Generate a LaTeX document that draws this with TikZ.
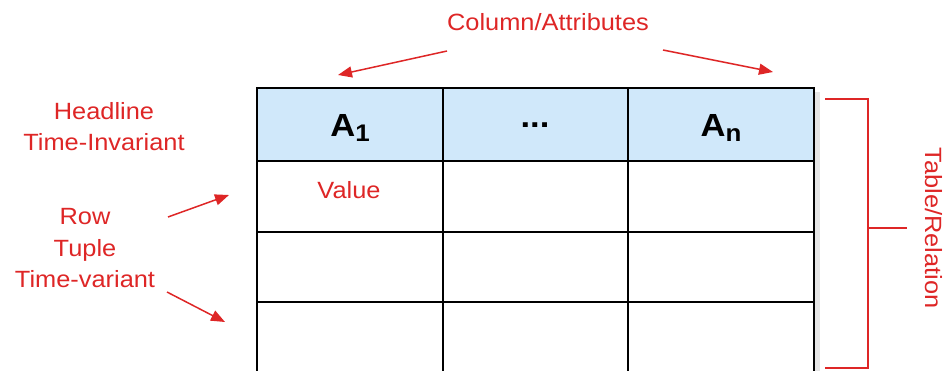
\documentclass[tikz,border=0pt]{standalone}
\usepackage{fontspec}
\setmainfont{Liberation Sans}
\newfontfamily\widesans[FakeStretch=1.08]{Liberation Sans}
\usetikzlibrary{arrows.meta}
\definecolor{lblred}{RGB}{222,38,38}
\definecolor{hdrblue}{RGB}{208,232,250}
\begin{document}
\begin{tikzpicture}[x=1pt,y=-1pt,
  lbl/.style={text=lblred,font=\widesans\fontsize{23.5}{27}\selectfont,inner sep=0pt,anchor=base},
  hdr/.style={font=\widesans\bfseries\fontsize{32}{36}\selectfont,inner sep=0pt,anchor=base},
  arr/.style={draw=lblred,line width=1.5pt,-{Triangle[length=14pt,width=11pt]}},
  gridline/.style={draw=black,line width=1.6pt},
  brk/.style={draw=lblred,line width=1.2pt}]
\useasboundingbox (0,0) rectangle (949,371);
% shadow and header fill
\fill[black!10] (815,92) rectangle (820,371);
\fill[hdrblue] (257,88) rectangle (814,161);
% grid
\draw[gridline] (257,371) -- (257,88) -- (814,88) -- (814,371);
\draw[gridline] (257,161) -- (814,161);
\draw[gridline] (257,232) -- (814,232);
\draw[gridline] (257,302) -- (814,302);
\draw[gridline] (443,88) -- (443,371);
\draw[gridline] (628,88) -- (628,371);
% header texts
\node[hdr] (a1) at (350,137) {A\raisebox{-5pt}{\fontsize{24}{26}\selectfont 1}};
\node[hdr] (dots) at (535,128) {...};
\node[hdr] (an) at (721,137) {A\raisebox{-5pt}{\fontsize{24}{26}\selectfont n}};
\node[lbl] (value) at (349,199) {Value};
% column label
\node[lbl] (col) at (548,31) {Column/Attributes};
\coordinate (colL) at (447,51);
\coordinate (colLt) at (338,75);
\coordinate (colR) at (663,50);
\coordinate (colRt) at (773,72);
\draw[arr] (colL) -- (colLt);
\draw[arr] (colR) -- (colRt);
% left labels
\node[lbl] (hl1) at (104,120) {Headline};
\node[lbl] (hl2) at (104,151) {Time-Invariant};
\node[lbl] (r1) at (85,225) {Row};
\node[lbl] (r2) at (85,256) {Tuple};
\node[lbl] (r3) at (85,287) {Time-variant};
\coordinate (ru) at (168,217);
\coordinate (rut) at (229,195);
\coordinate (rd) at (167,292);
\coordinate (rdt) at (225,322);
\draw[arr] (ru) -- (rut);
\draw[arr] (rd) -- (rdt);
% bracket
\coordinate (bt) at (825,99);
\coordinate (bb) at (825,368);
\coordinate (bm) at (907,228);
\draw[brk] (bt) -- (868,99) -- (868,368) -- (bb);
\draw[brk] (868,228) -- (bm);
\node[lbl,rotate=-90] (tr) at (925,228) {Table/Relation};
\end{tikzpicture}
\end{document}
